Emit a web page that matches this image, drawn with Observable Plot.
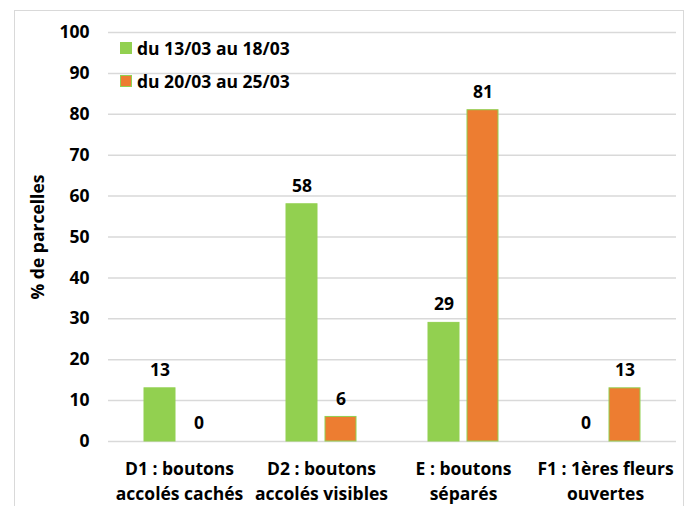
<!DOCTYPE html>
<html>
<head>
<meta charset="utf-8">
<script src="https://cdn.jsdelivr.net/npm/d3@7"></script>
<script src="https://cdn.jsdelivr.net/npm/@observablehq/plot@0.6"></script>
<style>
  html, body { margin: 0; padding: 0; background: #fff; }
  #wrap { position: relative; width: 688px; height: 506px; overflow: hidden; font-family: "Open Sans", sans-serif; font-weight: bold; }
  #frame { position: absolute; left: 14px; top: 10px; width: 670px; height: 520px; border: 1px solid #d9d9d9; box-sizing: border-box; }
  #chart { position: absolute; left: 0; top: 0; }
  #legend { position: absolute; left: 120px; top: 37px; font-size: 17.5px; color: #000; }
  .item { display: flex; align-items: center; height: 22px; margin-bottom: 11px; }
  .sw { width: 12px; height: 12px; margin-right: 5px; box-sizing: border-box; }
</style>
</head>
<body>
<div id="wrap">
  <div id="frame"></div>
  <div id="chart"></div>
  <div id="legend"></div>
</div>
<script>
const categories = ["D1 : boutons\naccolés cachés", "D2 : boutons\naccolés visibles", "E : boutons\nséparés", "F1 : 1ères fleurs\nouvertes"];
const series = ["du 13/03 au 18/03", "du 20/03 au 25/03"];
const values1 = [13, 58, 29, 0];
const values2 = [0, 6, 81, 13];
const colors = ["#92D050", "#ED7D31"];
const yTicks = [0, 10, 20, 30, 40, 50, 60, 70, 80, 90, 100];

const allValues = [values1, values2];
const data = categories.flatMap((c, i) => series.map((s, j) => ({cat: c, series: s, value: allValues[j][i]})));

const fs = 17.5;
const chart = Plot.plot({
  width: 688,
  height: 506,
  marginLeft: 106,
  marginRight: 11,
  marginTop: 32,
  marginBottom: 65,
  style: {fontFamily: "'Open Sans', sans-serif", fontWeight: "bold", fontSize: fs + "px", color: "#000", background: "transparent"},
  fx: {domain: categories, padding: 0, label: null},
  x: {domain: series, paddingInner: 0.2, paddingOuter: 0.884, axis: null},
  y: {domain: [0, 100], label: null},
  color: {domain: series, range: colors},
  marks: [
    Plot.gridY(yTicks, {stroke: "#d9d9d9", strokeOpacity: 1, strokeWidth: 1.5}),
    Plot.axisY(yTicks, {tickSize: 0, tickPadding: 19, label: "% de parcelles", labelAnchor: "center", labelArrow: "none", labelOffset: 77, fontSize: fs}),
    Plot.axisFx({anchor: "bottom", tickSize: 0, tickPadding: 15, lineHeight: 1.45, label: null, fontSize: fs}),
    Plot.barY(data, {fx: "cat", x: "series", y: "value", fill: "series", stroke: colors[0], strokeWidth: 1}),
    Plot.text(data, {fx: "cat", x: "series", y: "value", text: d => String(d.value), dy: -18, fontSize: fs, fontWeight: "bold"})
  ]
});
document.getElementById("chart").appendChild(chart);

const legend = document.getElementById("legend");
series.forEach((s, j) => {
  const item = document.createElement("div");
  item.className = "item";
  const sw = document.createElement("div");
  sw.className = "sw";
  sw.style.background = colors[j];
  sw.style.border = "1px solid " + colors[0];
  const t = document.createElement("span");
  t.textContent = s;
  item.appendChild(sw);
  item.appendChild(t);
  legend.appendChild(item);
});
</script>
</body>
</html>
